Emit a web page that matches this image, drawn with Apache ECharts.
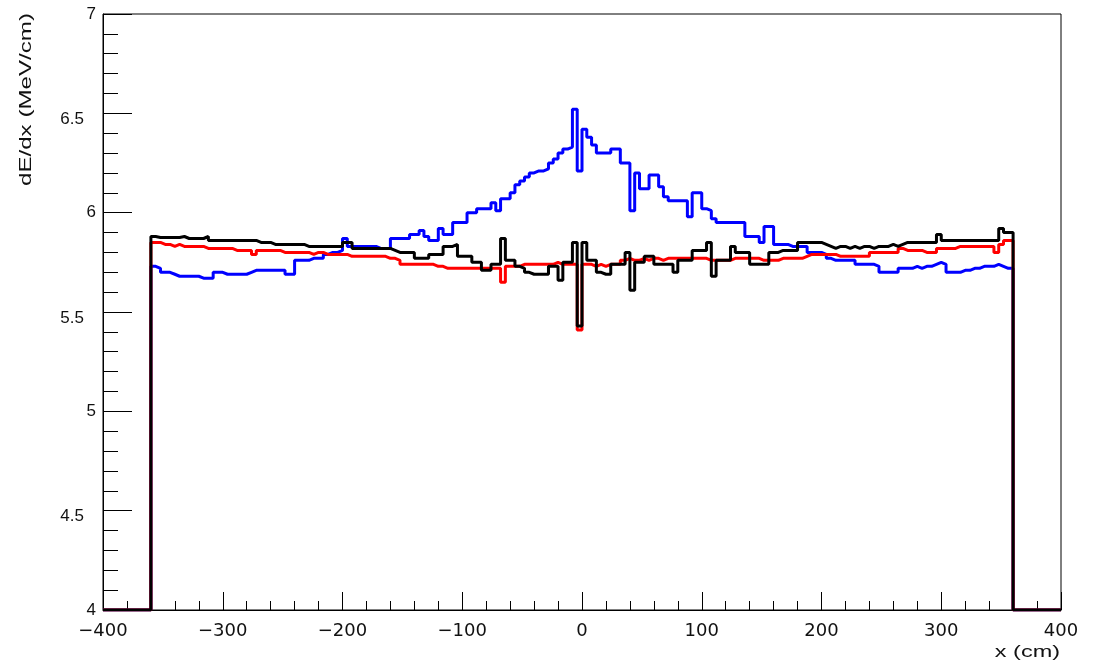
<!DOCTYPE html>
<html>
<head>
<meta charset="utf-8">
<script src="https://cdn.jsdelivr.net/npm/echarts@6/dist/echarts.min.js"></script>
<style>
  html, body { margin: 0; padding: 0; background: #fff; }
  #coolgraph { width: 1095px; height: 664px; }
</style>
</head>
<body>
<div id="coolgraph"></div>
<script>
// histogram binning (cm)
var xMin = -400;
var xMax = 400;
var yMin = 4;
var yMax = 7;
var firstEdge = -360;
var binWidth = 4;

// dE/dx per bin, from x = -360 to 360 cm
var blueValues = [
  5.73,5.72,5.70,5.70,5.69,5.68,5.68,5.68,5.68,5.68,
  5.67,5.67,5.67,5.70,5.70,5.69,5.69,5.69,5.69,5.69,
  5.70,5.71,5.71,5.71,5.71,5.71,5.71,5.71,5.69,5.69,
  5.76,5.76,5.76,5.77,5.77,5.77,5.79,5.80,5.80,5.81,
  5.87,5.83,5.83,5.83,5.83,5.83,5.83,5.82,5.82,5.82,
  5.87,5.87,5.87,5.87,5.89,5.89,5.91,5.88,5.86,5.86,
  5.92,5.89,5.89,5.95,5.95,5.95,6.00,6.00,6.02,6.02,
  6.02,6.05,6.01,6.07,6.07,6.10,6.14,6.16,6.18,6.20,
  6.21,6.21,6.22,6.25,6.27,6.30,6.32,6.33,6.52,6.21,
  6.42,6.38,6.34,6.30,6.30,6.30,6.32,6.32,6.25,6.25,
  6.01,6.20,6.12,6.12,6.19,6.19,6.13,6.08,6.06,6.06,
  6.06,6.06,5.98,6.10,6.10,6.02,6.01,5.97,5.95,5.95,
  5.95,5.95,5.95,5.95,5.88,5.88,5.88,5.85,5.93,5.93,
  5.84,5.84,5.84,5.83,5.83,5.83,5.83,5.80,5.80,5.80,
  5.79,5.77,5.76,5.76,5.76,5.76,5.76,5.74,5.74,5.74,
  5.74,5.73,5.70,5.70,5.70,5.70,5.72,5.72,5.72,5.73,
  5.72,5.73,5.73,5.74,5.75,5.74,5.70,5.70,5.70,5.71,
  5.71,5.72,5.72,5.73,5.73,5.73,5.74,5.73,5.72,5.72
];
var redValues = [
  5.85,5.85,5.84,5.84,5.83,5.84,5.83,5.83,5.83,5.83,
  5.83,5.82,5.82,5.82,5.82,5.82,5.82,5.81,5.81,5.81,
  5.81,5.79,5.81,5.81,5.81,5.81,5.81,5.80,5.80,5.80,
  5.80,5.80,5.80,5.79,5.80,5.80,5.79,5.79,5.79,5.79,
  5.79,5.78,5.78,5.78,5.78,5.78,5.78,5.78,5.78,5.77,
  5.77,5.76,5.74,5.74,5.74,5.74,5.74,5.74,5.74,5.73,
  5.73,5.72,5.72,5.72,5.72,5.72,5.72,5.72,5.72,5.72,
  5.72,5.72,5.72,5.65,5.73,5.73,5.73,5.74,5.74,5.74,
  5.74,5.74,5.74,5.74,5.75,5.74,5.74,5.74,5.74,5.41,
  5.74,5.74,5.73,5.74,5.73,5.74,5.74,5.74,5.76,5.77,
  5.76,5.76,5.77,5.76,5.77,5.77,5.76,5.77,5.77,5.77,
  5.77,5.77,5.77,5.77,5.77,5.77,5.76,5.76,5.76,5.76,
  5.76,5.77,5.77,5.77,5.77,5.77,5.77,5.76,5.76,5.76,
  5.76,5.77,5.77,5.77,5.77,5.77,5.78,5.79,5.79,5.79,
  5.79,5.79,5.79,5.78,5.78,5.78,5.78,5.78,5.78,5.78,
  5.80,5.80,5.80,5.80,5.80,5.80,5.82,5.81,5.81,5.81,
  5.81,5.80,5.80,5.80,5.82,5.82,5.82,5.82,5.83,5.83,
  5.83,5.83,5.83,5.83,5.83,5.83,5.80,5.84,5.86,5.86
];
var blackValues = [
  5.88,5.875,5.875,5.875,5.875,5.875,5.88,5.87,5.87,5.87,
  5.87,5.88,5.86,5.86,5.86,5.86,5.86,5.86,5.86,5.86,
  5.86,5.86,5.85,5.85,5.85,5.84,5.84,5.84,5.84,5.84,
  5.84,5.84,5.83,5.83,5.83,5.83,5.83,5.83,5.83,5.83,
  5.85,5.85,5.82,5.82,5.82,5.82,5.82,5.82,5.82,5.82,
  5.81,5.80,5.80,5.80,5.80,5.77,5.77,5.77,5.79,5.79,
  5.79,5.83,5.83,5.84,5.78,5.78,5.78,5.75,5.75,5.71,
  5.71,5.74,5.74,5.87,5.76,5.76,5.73,5.72,5.70,5.69,
  5.69,5.69,5.69,5.73,5.73,5.66,5.75,5.75,5.85,5.43,
  5.85,5.76,5.76,5.70,5.69,5.69,5.74,5.74,5.74,5.80,
  5.61,5.75,5.75,5.78,5.78,5.74,5.74,5.74,5.74,5.70,
  5.76,5.76,5.76,5.81,5.81,5.81,5.85,5.68,5.76,5.76,
  5.76,5.83,5.80,5.80,5.80,5.74,5.74,5.74,5.74,5.80,
  5.80,5.81,5.81,5.81,5.81,5.85,5.85,5.85,5.85,5.85,
  5.84,5.83,5.82,5.83,5.83,5.82,5.83,5.82,5.83,5.83,
  5.82,5.83,5.83,5.83,5.84,5.83,5.84,5.85,5.85,5.85,
  5.85,5.85,5.85,5.85,5.89,5.86,5.86,5.86,5.86,5.86,
  5.86,5.86,5.86,5.86,5.86,5.86,5.86,5.92,5.90,5.90
];

var fontName = '"Liberation Sans", Arial, Helvetica, sans-serif';
var wideFont = '"DejaVu Sans", Verdana, sans-serif';

// turn bin contents into step points (empty bins sit on the frame bottom)
function MakeSteps(vals){
  var pts = [[xMin, yMin]];
  for (let i = 0; i < vals.length; i++) {
    pts.push([firstEdge + i * binWidth, vals[i]]);
  }//End of loop
  var lastEdge = firstEdge + vals.length * binWidth;
  pts.push([lastEdge, yMin]);
  pts.push([xMax, yMin]);
  return pts;
}

function HistSeries(vals, col){
  return {
    type: 'line',
    step: 'end',
    symbol: 'none',
    clip: true,
    data: MakeSteps(vals),
    lineStyle: { color: col, width: 3 },
    z: 3
  };
}

var chartDom = document.getElementById('coolgraph');
var myChart = echarts.init(chartDom);
var option = {
  animation: false,
  backgroundColor: '#fff',
  grid: {
    left: 103,
    right: 34,
    top: 14,
    bottom: 54,
    show: true,
    borderColor: '#000',
    borderWidth: 1
  },
  xAxis: {
    type: 'value',
    min: xMin,
    max: xMax,
    interval: 100,
    axisLine: { show: true, onZero: false, lineStyle: { color: '#000', width: 1 } },
    axisTick: { show: true, inside: true, length: 18, lineStyle: { color: '#000', width: 1 } },
    minorTick: { show: true, splitNumber: 5, length: 9, lineStyle: { color: '#000', width: 1 } },
    splitLine: { show: false },
    axisLabel: {
      color: '#111',
      fontFamily: wideFont,
      fontSize: 18,
      margin: 12,
      showMinLabel: true,
      showMaxLabel: true,
      formatter: function(v){ return v < 0 ? '\u2212' + Math.abs(v) : String(v); }
    }
  },
  yAxis: {
    type: 'value',
    min: yMin,
    max: yMax,
    interval: 0.5,
    axisLine: { show: true, onZero: false, lineStyle: { color: '#000', width: 1 } },
    axisTick: { show: true, inside: true, length: 29, lineStyle: { color: '#000', width: 1 } },
    minorTick: { show: true, splitNumber: 5, length: 15, lineStyle: { color: '#000', width: 1 } },
    splitLine: { show: false },
    axisLabel: {
      color: '#111',
      fontFamily: fontName,
      fontSize: 17,
      margin: 7,
      showMinLabel: true,
      showMaxLabel: true,
      formatter: function(v){
        return (Math.round(v * 2) % 2 === 1) ? '{h|' + v + '}' : '{w|' + v + '}';
      },
      rich: {
        h: { fontFamily: fontName, fontSize: 17, color: '#111', padding: [12, 12, 0, 0] },
        w: { fontFamily: fontName, fontSize: 17, color: '#111' }
      }
    }
  },
  graphic: [
    {
      type: 'text',
      x: 26,
      y: 13,
      rotation: Math.PI / 2,
      scaleX: 1.42,
      style: {
        text: 'dE/dx (MeV/cm)',
        fill: '#111',
        font: '17px ' + fontName,
        textAlign: 'right',
        textVerticalAlign: 'middle'
      }
    },
    {
      type: 'text',
      x: 1060,
      y: 652,
      scaleX: 1.38,
      style: {
        text: 'x (cm)',
        fill: '#111',
        font: '17px ' + fontName,
        textAlign: 'right',
        textVerticalAlign: 'middle'
      }
    }
  ],
  series: [
    HistSeries(blueValues, '#0000ff'),
    HistSeries(redValues, '#ff0000'),
    HistSeries(blackValues, '#000000')
  ]
};
option && myChart.setOption(option);
</script>
</body>
</html>
